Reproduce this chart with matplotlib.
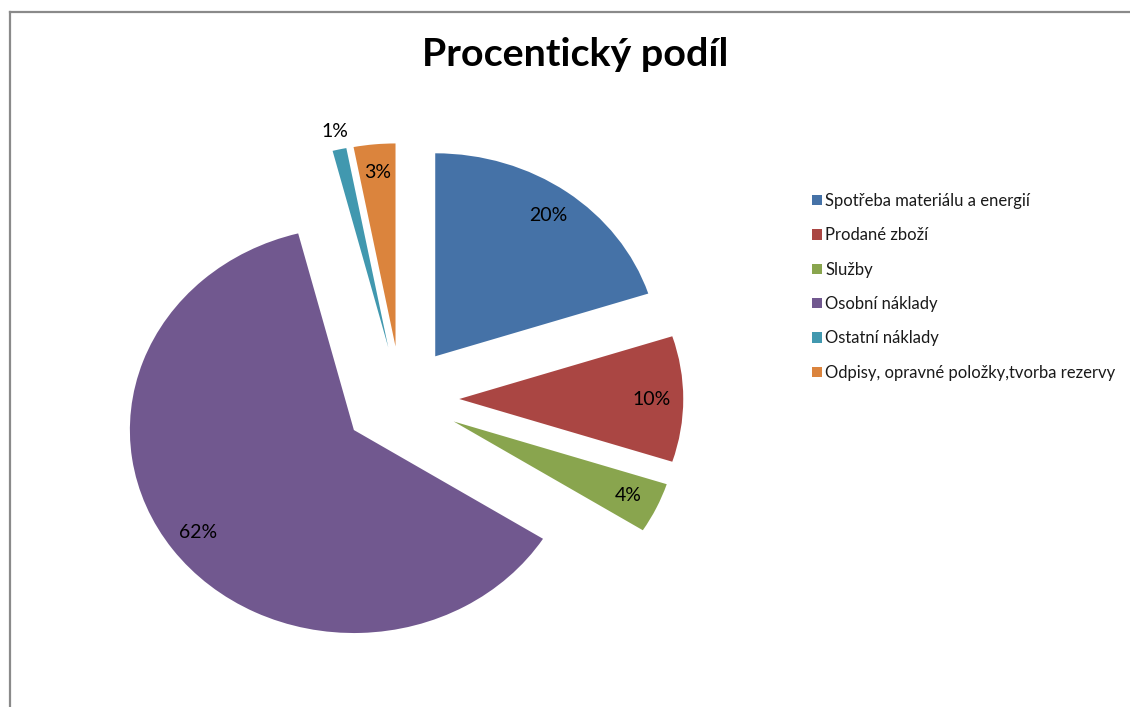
import numpy as np
import matplotlib
matplotlib.use("Agg")
import matplotlib.pyplot as plt
from matplotlib.lines import Line2D
from matplotlib.patches import Patch

# Cost structure data
categories = [
    "Spotřeba materiálu a energií",
    "Prodané zboží",
    "Služby",
    "Osobní náklady",
    "Ostatní náklady",
    "Odpisy, opravné položky,tvorba rezervy",
]
shares = [20, 10, 4, 62, 1, 3]
colors = ["#4572A7", "#AA4643", "#89A54E", "#71588F", "#4198AF", "#DB843D"]
title = "Procentický podíl"

plt.rcParams["font.family"] = ["Lato", "DejaVu Sans"]

W, H = 1130, 707
fig = plt.figure(figsize=(W / 100, H / 100), dpi=100)

# Pie axes: centre and radii in pixels, slightly wider than tall
cx, cy = 401, 707 - 399
rx, ry = 224, 203
lim = 1.45
ax = fig.add_axes([(cx - lim * rx) / W, (cy - lim * ry) / H,
                   2 * lim * rx / W, 2 * lim * ry / H])

explode = [0.26] * len(shares)
wedges, texts, autotexts = ax.pie(
    shares, colors=colors, explode=explode, startangle=90, counterclock=False,
    autopct="%d%%", pctdistance=0.86,
    textprops=dict(fontsize=14, color="black"),
    wedgeprops=dict(linewidth=0),
)
ax.set_aspect("auto")
ax.set_xlim(-lim, lim)
ax.set_ylim(-lim, lim)
ax.axis("off")

# Small slice label sits outside its wedge
small = 4
w = wedges[small]
theta = np.deg2rad((w.theta1 + w.theta2) / 2)
ex = explode[small]
autotexts[small].set_position(((ex + 1.09) * np.cos(theta), (ex + 1.09) * np.sin(theta)))

# Title
fig.text(575 / W, 1 - 55 / H, title, ha="center", va="center",
         fontsize=28.4, fontweight="bold", color="black")

# Legend
handles = [Patch(facecolor=c, edgecolor="none") for c in colors]
leg = fig.legend(handles, categories, loc="upper left",
                 bbox_to_anchor=(812 / W, 1 - 193 / H),
                 frameon=False, fontsize=12, handlelength=0.58,
                 handleheight=0.58, handletextpad=0.2, labelspacing=1.1,
                 borderpad=0, borderaxespad=0)
for t in leg.get_texts():
    t.set_color("#1a1a1a")

# Chart-area border (top and left edges)
gray = "#8a8a8a"
fig.add_artist(Line2D([10 / W, 1], [1 - 12 / H, 1 - 12 / H], color=gray, lw=1.6,
                      transform=fig.transFigure))
fig.add_artist(Line2D([10 / W, 10 / W], [0, 1 - 12 / H], color=gray, lw=1.6,
                      transform=fig.transFigure))

fig.savefig("out.png", dpi=100, facecolor="white")
